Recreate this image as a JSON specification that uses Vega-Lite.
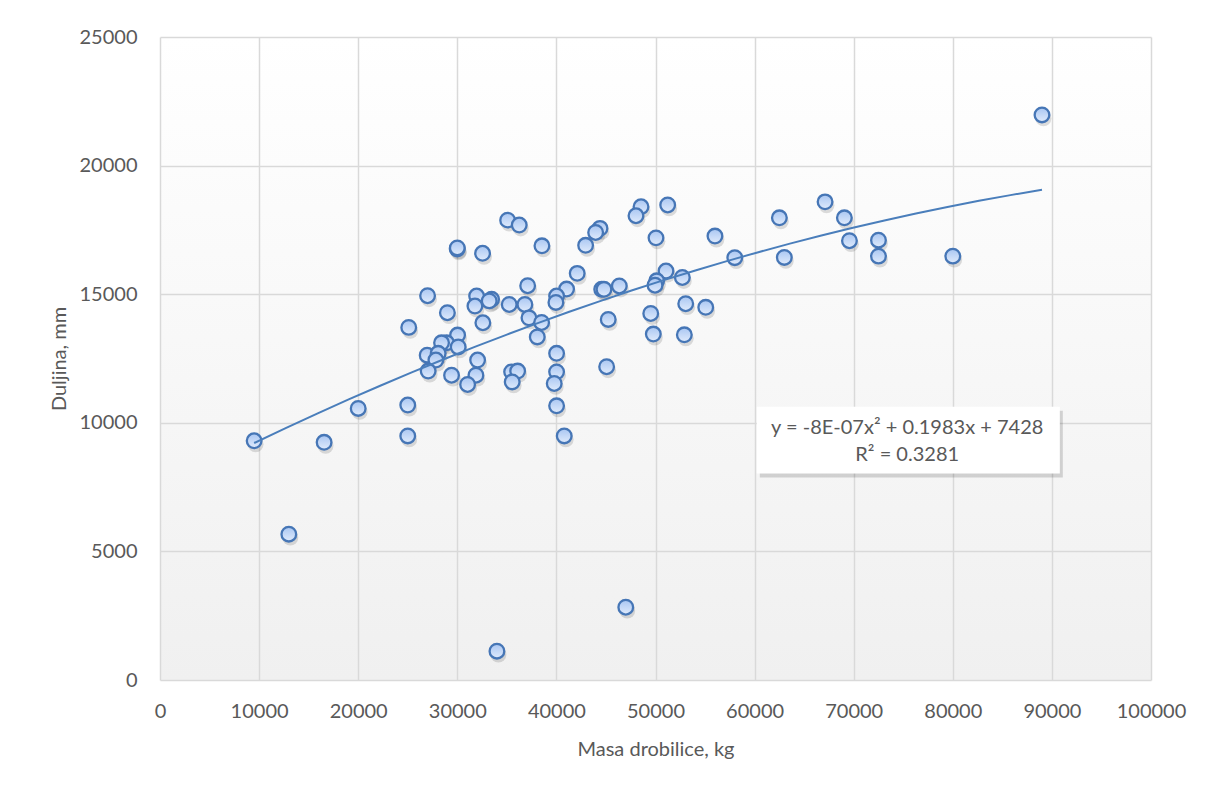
{
  "$schema": "https://vega.github.io/schema/vega-lite/v6.json",
  "width": 991,
  "height": 643,
  "autosize": {"type": "none"},
  "padding": {"left": 160, "top": 37, "right": 62, "bottom": 111},
  "background": "#ffffff",
  "config": {
    "view": {
      "stroke": null,
      "fill": {
        "gradient": "linear", "x1": 0, "y1": 0, "x2": 0, "y2": 1,
        "stops": [{"offset": 0, "color": "#ffffff"}, {"offset": 1, "color": "#f0f0f0"}]
      }
    },
    "font": "Lato",
    "axis": {
      "labelFont": "Lato",
      "titleFont": "Lato",
      "labelFontSize": 20,
      "titleFontSize": 20,
      "labelColor": "#595959",
      "titleColor": "#595959",
      "titleFontWeight": "normal",
      "gridColor": "#d9d9d9",
      "gridWidth": 1.5,
      "ticks": false,
      "domain": false,
      "labelFlush": false,
      "labelOverlap": false,
      "labelBound": false
    }
  },
  "data": {
    "values": [
      {"masa": 9500, "duljina": 9300}, {"masa": 13000, "duljina": 5670}, {"masa": 16560, "duljina": 9240},
      {"masa": 20000, "duljina": 10560}, {"masa": 25000, "duljina": 9490}, {"masa": 25000, "duljina": 10690},
      {"masa": 25100, "duljina": 13710}, {"masa": 27000, "duljina": 14940}, {"masa": 29000, "duljina": 14280},
      {"masa": 30030, "duljina": 13410}, {"masa": 28920, "duljina": 13110}, {"masa": 28410, "duljina": 13110},
      {"masa": 30090, "duljina": 12950}, {"masa": 26960, "duljina": 12630}, {"masa": 28070, "duljina": 12700},
      {"masa": 27840, "duljina": 12440}, {"masa": 27060, "duljina": 12010}, {"masa": 32050, "duljina": 12440},
      {"masa": 29420, "duljina": 11850}, {"masa": 31880, "duljina": 11850}, {"masa": 31040, "duljina": 11490},
      {"masa": 32580, "duljina": 13890}, {"masa": 31950, "duljina": 14930}, {"masa": 31780, "duljina": 14540},
      {"masa": 33460, "duljina": 14800}, {"masa": 33220, "duljina": 14740}, {"masa": 35240, "duljina": 14600},
      {"masa": 37100, "duljina": 15330}, {"masa": 36820, "duljina": 14600}, {"masa": 37230, "duljina": 14080},
      {"masa": 38510, "duljina": 13900}, {"masa": 38070, "duljina": 13340}, {"masa": 41030, "duljina": 15200},
      {"masa": 40020, "duljina": 14930}, {"masa": 39950, "duljina": 14680}, {"masa": 42100, "duljina": 15810},
      {"masa": 44570, "duljina": 15190}, {"masa": 44800, "duljina": 15190}, {"masa": 46350, "duljina": 15320},
      {"masa": 51060, "duljina": 15900}, {"masa": 50120, "duljina": 15520}, {"masa": 49950, "duljina": 15350},
      {"masa": 52710, "duljina": 15650}, {"masa": 45230, "duljina": 14020}, {"masa": 49520, "duljina": 14250},
      {"masa": 53050, "duljina": 14630}, {"masa": 49780, "duljina": 13450}, {"masa": 52910, "duljina": 13420},
      {"masa": 35080, "duljina": 17880}, {"masa": 36250, "duljina": 17690}, {"masa": 29990, "duljina": 16760},
      {"masa": 30000, "duljina": 16800}, {"masa": 32550, "duljina": 16590}, {"masa": 38540, "duljina": 16880},
      {"masa": 44400, "duljina": 17560}, {"masa": 43960, "duljina": 17400}, {"masa": 42950, "duljina": 16900},
      {"masa": 48540, "duljina": 18400}, {"masa": 48030, "duljina": 18050}, {"masa": 51230, "duljina": 18470},
      {"masa": 50050, "duljina": 17190}, {"masa": 45070, "duljina": 12180}, {"masa": 40020, "duljina": 12700},
      {"masa": 40020, "duljina": 11980}, {"masa": 39780, "duljina": 11530}, {"masa": 40020, "duljina": 10660},
      {"masa": 40790, "duljina": 9490}, {"masa": 35480, "duljina": 11980}, {"masa": 36090, "duljina": 12010},
      {"masa": 35540, "duljina": 11590}, {"masa": 56000, "duljina": 17260}, {"masa": 62500, "duljina": 17970},
      {"masa": 67110, "duljina": 18590}, {"masa": 69060, "duljina": 17970}, {"masa": 69570, "duljina": 17080},
      {"masa": 72500, "duljina": 17100}, {"masa": 72500, "duljina": 16480}, {"masa": 63000, "duljina": 16430},
      {"masa": 58000, "duljina": 16420}, {"masa": 55070, "duljina": 14490}, {"masa": 80000, "duljina": 16480},
      {"masa": 89000, "duljina": 21970}, {"masa": 47000, "duljina": 2830}, {"masa": 34000, "duljina": 1120}
    ]
  },
  "layer": [
    {
      "mark": {"type": "point", "shape": "circle", "filled": true, "fill": "#000000", "opacity": 0.13, "size": 250, "xOffset": 1.5, "yOffset": 3.5, "strokeWidth": 0},
      "encoding": {
        "x": {"field": "masa", "type": "quantitative"},
        "y": {"field": "duljina", "type": "quantitative"}
      }
    },
    {
      "mark": {
        "type": "point", "shape": "circle", "filled": true, "opacity": 1,
        "size": 215, "stroke": "#4676b6", "strokeWidth": 2.3,
        "fill": {
          "gradient": "linear", "x1": 0, "y1": 0, "x2": 0, "y2": 1,
          "stops": [{"offset": 0, "color": "#a9c6f2"}, {"offset": 1, "color": "#e0ebfc"}]
        }
      },
      "encoding": {
        "x": {
          "field": "masa", "type": "quantitative",
          "scale": {"domain": [0, 100000], "nice": false},
          "axis": {
            "values": [0, 10000, 20000, 30000, 40000, 50000, 60000, 70000, 80000, 90000, 100000],
            "format": "d",
            "labelPadding": 21,
            "title": "Masa drobilice, kg",
            "titleBaseline": "alphabetic",
            "titleY": 75
          }
        },
        "y": {
          "field": "duljina", "type": "quantitative",
          "scale": {"domain": [0, 25000], "nice": false},
          "axis": {
            "values": [0, 5000, 10000, 15000, 20000, 25000],
            "format": "d",
            "labelPadding": 23,
            "title": "Duljina, mm",
            "titleBaseline": "alphabetic",
            "titleX": -95,
            "titleY": 321.5,
            "titleAngle": -90,
            "titleAlign": "center"
          }
        }
      }
    },
    {
      "transform": [
        {"regression": "duljina", "on": "masa", "method": "poly", "order": 2, "extent": [9500, 89000]}
      ],
      "mark": {"type": "line", "color": "#4a7ebb", "strokeWidth": 2},
      "encoding": {
        "x": {"field": "masa", "type": "quantitative"},
        "y": {"field": "duljina", "type": "quantitative"}
      }
    },
    {
      "data": {"values": [{}]},
      "mark": {"type": "rect", "fill": "#000000", "opacity": 0.15, "xOffset": 3, "x2Offset": 3, "yOffset": 4, "y2Offset": 4},
      "encoding": {
        "x": {"datum": 60220, "type": "quantitative"},
        "x2": {"datum": 90800},
        "y": {"datum": 8030, "type": "quantitative"},
        "y2": {"datum": 10620}
      }
    },
    {
      "data": {"values": [{}]},
      "mark": {"type": "rect", "fill": "#ffffff"},
      "encoding": {
        "x": {"datum": 60220, "type": "quantitative"},
        "x2": {"datum": 90800},
        "y": {"datum": 8030, "type": "quantitative"},
        "y2": {"datum": 10620}
      }
    },
    {
      "data": {"values": [{"eq": "y = -8E-07x² + 0.1983x + 7428", "px": 75400, "py": 9810}, {"eq": "R² = 0.3281", "px": 75400, "py": 8740}]},
      "mark": {"type": "text", "font": "Lato", "fontSize": 20, "color": "#595959", "align": "center", "baseline": "middle"},
      "encoding": {
        "x": {"field": "px", "type": "quantitative"},
        "y": {"field": "py", "type": "quantitative"},
        "text": {"field": "eq"}
      }
    }
  ]
}
